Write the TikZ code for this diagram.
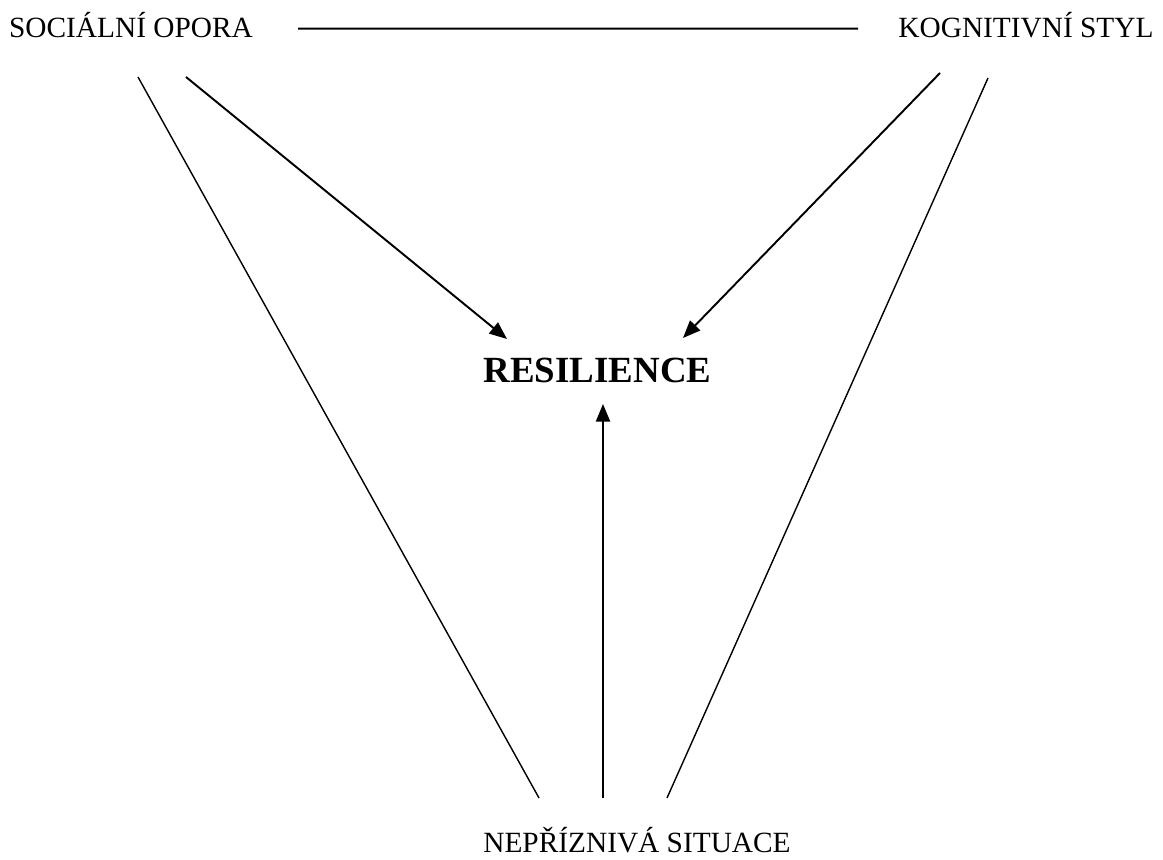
\documentclass[tikz,border=0pt]{standalone}
\usepackage{fontspec}
\setmainfont{Liberation Serif}
\usepackage{tikz}
\usetikzlibrary{arrows.meta}

\begin{document}
\begin{tikzpicture}[
        label/.style={inner sep=0pt, anchor=base, font=\fontsize{16.7}{20}\selectfont},
        core/.style={inner sep=0pt, anchor=base, font=\fontsize{21}{25}\selectfont\bfseries},
        thin/.style={line width=0.8pt},
        arrow/.style={-{Triangle[length=10pt, width=8pt]}, line width=1.1pt}
    ]
        \useasboundingbox (0,0) rectangle (23.26,17.2);

        % Factors
        \node[label] (social) at (2.62,16.44) {SOCIÁLNÍ OPORA};
        \node[label] (cognitive) at (20.52,16.44) {KOGNITIVNÍ STYL};
        \node[label] (adverse) at (12.74,0.14) {NEPŘÍZNIVÁ SITUACE};

        % Outcome
        \node[core] (resilience) at (11.95,9.54) {RESILIENCE};

        % Line ends
        \coordinate (socOut) at (2.76,15.66);
        \coordinate (socIn) at (3.72,15.66);
        \coordinate (cogIn) at (18.8,15.74);
        \coordinate (cogOut) at (19.76,15.64);
        \coordinate (advL) at (10.78,1.24);
        \coordinate (advM) at (12.06,1.24);
        \coordinate (advR) at (13.34,1.24);
        \coordinate (resL) at (10.14,10.42);
        \coordinate (resR) at (13.66,10.44);
        \coordinate (resB) at (12.06,9.12);

        % Arrows
        \draw[line width=1.1pt, shorten <=0.9cm, shorten >=0.8cm] ([yshift=-0.06cm]social.east) -- ([yshift=-0.06cm]cognitive.west);
        \draw[thin] (socOut) -- (advL);
        \draw[thin] (cogOut) -- (advR);
        \draw[arrow] (socIn) -- (resL);
        \draw[arrow] (cogIn) -- (resR);
        \draw[arrow] (advM) -- (resB);
    \end{tikzpicture}
\end{document}
